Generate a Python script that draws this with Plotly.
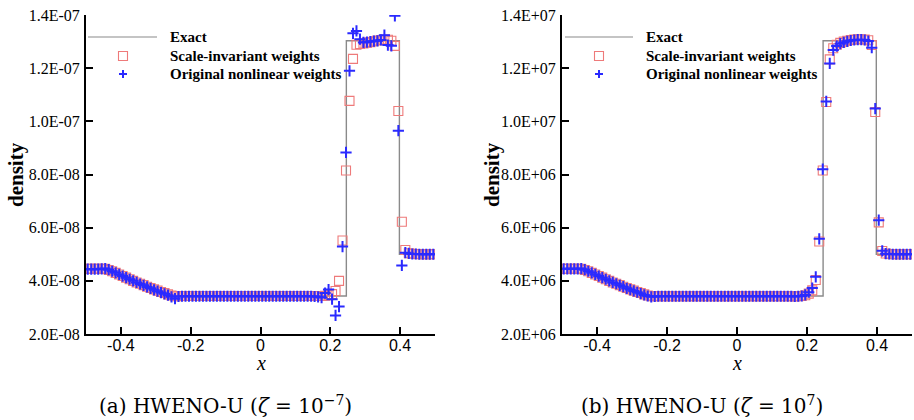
import plotly.graph_objects as go

# ---------------- data ----------------
# cell centres (100 uniform cells on [-0.5, 0.5])
x_cells = [
    -0.495, -0.485, -0.475, -0.465, -0.455, -0.445, -0.435, -0.425, -0.415, -0.405,
    -0.395, -0.385, -0.375, -0.365, -0.355, -0.345, -0.335, -0.325, -0.315, -0.305,
    -0.295, -0.285, -0.275, -0.265, -0.255, -0.245, -0.235, -0.225, -0.215, -0.205,
    -0.195, -0.185, -0.175, -0.165, -0.155, -0.145, -0.135, -0.125, -0.115, -0.105,
    -0.095, -0.085, -0.075, -0.065, -0.055, -0.045, -0.035, -0.025, -0.015, -0.005,
    0.005, 0.015, 0.025, 0.035, 0.045, 0.055, 0.065, 0.075, 0.085, 0.095,
    0.105, 0.115, 0.125, 0.135, 0.145, 0.155, 0.165, 0.175, 0.185, 0.195,
    0.205, 0.215, 0.225, 0.235, 0.245, 0.255, 0.265, 0.275, 0.285, 0.295,
    0.305, 0.315, 0.325, 0.335, 0.345, 0.355, 0.365, 0.375, 0.385, 0.395,
    0.405, 0.415, 0.425, 0.435, 0.445, 0.455, 0.465, 0.475, 0.485, 0.495,
]

# exact solution (same shape in both panels, in units of the panel scale)
exact_x = [-0.5, -0.44, -0.40, -0.36, -0.32, -0.28, -0.25, 0.246, 0.246, 0.398, 0.398, 0.5]
exact_y = [4.45, 4.45, 4.20, 3.97, 3.76, 3.57, 3.43, 3.43, 13.03, 13.03, 5.00, 5.00]

# panel (a): zeta = 1e-7, values in units of 1E-08
a_scale_inv = [
    4.45, 4.45, 4.45, 4.45, 4.45, 4.45, 4.41, 4.36, 4.30, 4.24,
    4.18, 4.12, 4.06, 4.00, 3.94, 3.89, 3.84, 3.78, 3.73, 3.68,
    3.63, 3.58, 3.54, 3.49, 3.45, 3.42, 3.42, 3.43, 3.43, 3.43,
    3.43, 3.43, 3.43, 3.43, 3.43, 3.43, 3.43, 3.43, 3.43, 3.43,
    3.43, 3.43, 3.43, 3.43, 3.43, 3.43, 3.43, 3.43, 3.43, 3.43,
    3.43, 3.43, 3.43, 3.43, 3.43, 3.43, 3.43, 3.43, 3.43, 3.43,
    3.43, 3.43, 3.43, 3.43, 3.43, 3.43, 3.43, 3.43, 3.44, 3.46,
    3.50, 3.62, 4.00, 5.52, 8.15, 10.77, 12.35, 12.88, 12.91, 12.93,
    12.96, 12.98, 13.01, 13.04, 13.06, 13.08, 13.07, 13.03, 12.84, 10.39,
    6.22, 5.16, 5.04, 5.02, 5.01, 5.00, 5.00, 5.00, 5.00, 5.00,
]
a_original = [
    4.44, 4.44, 4.44, 4.44, 4.45, 4.46, 4.42, 4.36, 4.30, 4.24,
    4.18, 4.12, 4.06, 4.00, 3.94, 3.88, 3.83, 3.77, 3.72, 3.66,
    3.61, 3.56, 3.51, 3.46, 3.40, 3.33, 3.41, 3.42, 3.42, 3.42,
    3.42, 3.42, 3.42, 3.42, 3.42, 3.42, 3.42, 3.42, 3.42, 3.42,
    3.42, 3.42, 3.42, 3.42, 3.42, 3.42, 3.42, 3.42, 3.42, 3.42,
    3.42, 3.42, 3.42, 3.42, 3.42, 3.42, 3.42, 3.42, 3.42, 3.42,
    3.42, 3.42, 3.42, 3.42, 3.42, 3.41, 3.40, 3.37, 3.54, 3.67,
    3.31, 2.70, 3.03, 5.29, 8.83, 11.90, 13.31, 13.40, 13.09, 12.97,
    12.98, 13.00, 13.02, 13.03, 13.06, 13.24, 12.87, 12.84, 13.97, 9.65,
    4.58, 5.06, 5.03, 5.01, 5.01, 5.00, 5.00, 5.00, 5.00, 5.00,
]

# panel (b): zeta = 1e7, values in units of 1E+06
b_scale_inv = [
    4.45, 4.45, 4.45, 4.45, 4.45, 4.45, 4.41, 4.36, 4.30, 4.24,
    4.18, 4.12, 4.06, 4.00, 3.94, 3.89, 3.84, 3.78, 3.73, 3.68,
    3.63, 3.58, 3.54, 3.49, 3.45, 3.42, 3.42, 3.42, 3.42, 3.42,
    3.42, 3.42, 3.42, 3.42, 3.42, 3.42, 3.42, 3.42, 3.42, 3.42,
    3.42, 3.42, 3.42, 3.42, 3.42, 3.42, 3.42, 3.42, 3.42, 3.42,
    3.42, 3.42, 3.42, 3.42, 3.42, 3.42, 3.42, 3.42, 3.42, 3.42,
    3.42, 3.42, 3.42, 3.42, 3.42, 3.42, 3.41, 3.42, 3.43, 3.46,
    3.52, 3.64, 4.03, 5.48, 8.15, 10.73, 12.33, 12.75, 12.88, 12.95,
    13.00, 13.03, 13.06, 13.08, 13.09, 13.09, 13.08, 13.05, 12.87, 10.35,
    6.20, 5.12, 5.03, 5.01, 5.00, 5.00, 5.00, 5.00, 5.00, 5.00,
]
b_original = [
    4.45, 4.45, 4.45, 4.45, 4.45, 4.46, 4.42, 4.36, 4.30, 4.24,
    4.18, 4.12, 4.06, 4.00, 3.94, 3.89, 3.83, 3.78, 3.72, 3.67,
    3.62, 3.57, 3.52, 3.47, 3.43, 3.40, 3.41, 3.42, 3.42, 3.42,
    3.42, 3.42, 3.42, 3.42, 3.42, 3.42, 3.42, 3.42, 3.42, 3.42,
    3.42, 3.42, 3.42, 3.42, 3.42, 3.42, 3.42, 3.42, 3.42, 3.42,
    3.42, 3.42, 3.42, 3.42, 3.42, 3.42, 3.42, 3.42, 3.42, 3.42,
    3.42, 3.42, 3.42, 3.42, 3.42, 3.42, 3.41, 3.42, 3.43, 3.47,
    3.57, 3.73, 4.15, 5.58, 8.20, 10.75, 12.18, 12.68, 12.83, 12.92,
    12.97, 13.01, 13.04, 13.06, 13.07, 13.07, 13.06, 13.02, 12.77, 10.48,
    6.28, 5.13, 5.02, 5.01, 5.00, 5.00, 5.00, 5.00, 5.00, 5.00,
]

a_unit = 1e-8
b_unit = 1e6

x_tickvals = [-0.4, -0.2, 0, 0.2, 0.4]
x_ticktext = ["-0.4", "-0.2", "0", "0.2", "0.4"]
a_tickvals = [2e-8, 4e-8, 6e-8, 8e-8, 1.0e-7, 1.2e-7, 1.4e-7]
a_ticktext = ["2.0E-08", "4.0E-08", "6.0E-08", "8.0E-08", "1.0E-07", "1.2E-07", "1.4E-07"]
b_tickvals = [2e6, 4e6, 6e6, 8e6, 1.0e7, 1.2e7, 1.4e7]
b_ticktext = ["2.0E+06", "4.0E+06", "6.0E+06", "8.0E+06", "1.0E+07", "1.2E+07", "1.4E+07"]

legend_labels = ["Exact", "Scale-invariant weights", "Original nonlinear weights"]
captions = ["(a) HWENO-U (<i>ζ</i> = 10<sup>−7</sup>)", "(b) HWENO-U (<i>ζ</i> = 10<sup>7</sup>)"]

# ---------------- styling ----------------
W, H = 914, 420
LINE_COLOR = "#8a8a8a"
SQ_COLOR = "#ee7a7a"
PLUS_COLOR = "#2a2aff"
SERIF = "Liberation Serif, Times New Roman, serif"
SANS = "Liberation Sans, Arial, sans-serif"
CAP_FONT = "DejaVu Serif, serif"


def px(x):
    return x / W


def py(y):
    return 1 - y / H


fig = go.Figure()

panels = [
    dict(xa="x", ya="y", unit=a_unit, sq=a_scale_inv, pl=a_original),
    dict(xa="x2", ya="y2", unit=b_unit, sq=b_scale_inv, pl=b_original),
]
for p in panels:
    u = p["unit"]
    fig.add_trace(go.Scatter(
        x=exact_x, y=[v * u for v in exact_y], mode="lines",
        line=dict(color=LINE_COLOR, width=1.4), xaxis=p["xa"], yaxis=p["ya"],
        name=legend_labels[0], showlegend=False))
    fig.add_trace(go.Scatter(
        x=x_cells, y=[v * u for v in p["sq"]], mode="markers",
        marker=dict(symbol="square-open", size=9, color=SQ_COLOR, line=dict(width=1.1, color=SQ_COLOR)),
        xaxis=p["xa"], yaxis=p["ya"], name=legend_labels[1], showlegend=False))
    fig.add_trace(go.Scatter(
        x=x_cells, y=[v * u for v in p["pl"]], mode="markers",
        marker=dict(symbol="cross-thin", size=8, color=PLUS_COLOR, line=dict(width=2, color=PLUS_COLOR)),
        xaxis=p["xa"], yaxis=p["ya"], name=legend_labels[2], showlegend=False))

axis_common = dict(
    showline=True, linecolor="black", linewidth=2, mirror=False,
    ticks="inside", ticklen=7, tickwidth=2, tickcolor="black",
    showgrid=False, zeroline=False, automargin=False,
)

# pixel geometry of the two panels
top, bottom = 15, 334
panels_px = [(86, 435), (562, 912)]

fig.update_layout(
    template="none",
    width=W, height=H, margin=dict(l=0, r=0, t=0, b=0, pad=0),
    paper_bgcolor="white", plot_bgcolor="white", showlegend=False,
    xaxis=dict(domain=[px(86), px(435)], range=[-0.5, 0.5], anchor="y",
               tickvals=x_tickvals, ticktext=x_ticktext, ticklabelstandoff=-4,
               tickfont=dict(family=SANS, size=16, color="black"), **axis_common),
    yaxis=dict(domain=[py(bottom), py(top)], range=[2e-8, 1.4e-7], anchor="x",
               tickvals=a_tickvals, ticktext=a_ticktext, ticklabelstandoff=1,
               tickfont=dict(family=SERIF, size=16, color="black"), **axis_common),
    xaxis2=dict(domain=[px(562), px(912)], range=[-0.5, 0.5], anchor="y2",
                tickvals=x_tickvals, ticktext=x_ticktext, ticklabelstandoff=-4,
                tickfont=dict(family=SANS, size=16, color="black"), **axis_common),
    yaxis2=dict(domain=[py(bottom), py(top)], range=[2e6, 1.4e7], anchor="x2",
                tickvals=b_tickvals, ticktext=b_ticktext, ticklabelstandoff=1,
                tickfont=dict(family=SERIF, size=16, color="black"), **axis_common),
)

shapes = []
annotations = []

# legends (drawn manually to mimic the original layout)
legend_geo = [
    dict(l0=88, l1=157, mx=123, tx=168),
    dict(l0=565, l1=633, mx=599, tx=644),
]
ys = [37, 56, 74]
for g in legend_geo:
    shapes.append(dict(type="line", xref="paper", yref="paper",
                       x0=px(g["l0"]), x1=px(g["l1"]), y0=py(ys[0]), y1=py(ys[0]),
                       line=dict(color=LINE_COLOR, width=1.2)))
    hs = 4.5
    shapes.append(dict(type="rect", xref="paper", yref="paper",
                       x0=px(g["mx"] - hs), x1=px(g["mx"] + hs),
                       y0=py(ys[1] + hs), y1=py(ys[1] - hs),
                       line=dict(color=SQ_COLOR, width=1.1), fillcolor="rgba(0,0,0,0)"))
    hp = 4
    shapes.append(dict(type="line", xref="paper", yref="paper",
                       x0=px(g["mx"] - hp), x1=px(g["mx"] + hp), y0=py(ys[2]), y1=py(ys[2]),
                       line=dict(color=PLUS_COLOR, width=2)))
    shapes.append(dict(type="line", xref="paper", yref="paper",
                       x0=px(g["mx"]), x1=px(g["mx"]), y0=py(ys[2] - hp), y1=py(ys[2] + hp),
                       line=dict(color=PLUS_COLOR, width=2)))
    for lab, yy in zip(legend_labels, ys):
        annotations.append(dict(xref="paper", yref="paper", x=px(g["tx"]), y=py(yy),
                                xanchor="left", yanchor="middle", showarrow=False,
                                text="<b>%s</b>" % lab,
                                font=dict(family=SERIF, size=15, color="black")))

# axis titles
for (l, r), cx in zip(panels_px, [16, 492]):
    annotations.append(dict(xref="paper", yref="paper", x=px(cx), y=py(175),
                            xanchor="center", yanchor="middle", showarrow=False,
                            text="<b>density</b>", textangle=-90,
                            font=dict(family=SERIF, size=21, color="black")))
    annotations.append(dict(xref="paper", yref="paper", x=px((l + r) / 2), y=py(363),
                            xanchor="center", yanchor="middle", showarrow=False,
                            text="<i>x</i>",
                            font=dict(family=SERIF, size=20, color="black")))

# captions
for cap, cx in zip(captions, [225, 702]):
    annotations.append(dict(xref="paper", yref="paper", x=px(cx), y=py(405),
                            xanchor="center", yanchor="middle", showarrow=False,
                            text=cap, font=dict(family=CAP_FONT, size=20, color="black")))

fig.update_layout(shapes=shapes, annotations=annotations)
fig.write_html(
    "out.html",
    config={"displayModeBar": False},
    post_script="document.body.style.margin='0';document.body.style.padding='0';",
)
